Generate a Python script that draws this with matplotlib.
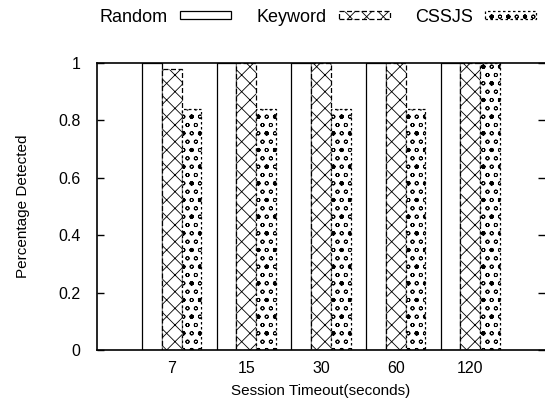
import numpy as np
import matplotlib
matplotlib.use("Agg")
from matplotlib import pyplot as plt

timeouts = ["7", "15", "30", "60", "120"]
random_vals = [1.0, 1.0, 1.0, 1.0, 1.0]
keyword_vals = [0.98, 1.0, 1.0, 1.0, 1.0]
cssjs_vals = [0.84, 0.84, 0.84, 0.84, 1.0]

plt.rcParams['font.family'] = ['Liberation Sans', 'DejaVu Sans']
plt.rcParams['hatch.linewidth'] = 0.6

fig = plt.figure(figsize=(5.45, 4.07), dpi=100)
ax = fig.add_axes([97/545, 1 - 350/407, 448/545, 287/407])

x = np.arange(len(timeouts))
w = 0.265

ax.bar(x - w, random_vals, w, color="white", edgecolor="black", linewidth=0.9, label="Random")
ax.bar(x, keyword_vals, w, color="white", edgecolor="black", linewidth=0.9,
       linestyle=(0, (4, 2)), hatch="xx", label="Keyword")
ax.bar(x + w, cssjs_vals, w, color="white", edgecolor="black", linewidth=0.9,
       linestyle=(0, (2, 2)), hatch="oo.", label="CSSJS")

ax.set_xlim(-1.0, 5.0)
ax.set_ylim(0, 1)
ax.set_xticks(x)
ax.set_xticklabels(timeouts)
ax.set_yticks([0, 0.2, 0.4, 0.6, 0.8, 1])
ax.set_yticklabels(["0", "0.2", "0.4", "0.6", "0.8", "1"])
ax.tick_params(direction="in", labelsize=11.5, length=5, right=True, width=1, pad=12)
ax.tick_params(axis="x", length=0, pad=8)
ax.spines["right"].set_visible(False)
for s in ["left", "bottom", "top"]:
    ax.spines[s].set_linewidth(1.2)

ax.set_ylabel("Percentage Detected", fontsize=11, labelpad=20)
ax.set_xlabel("Session Timeout(seconds)", fontsize=11, labelpad=6)

ax.legend(loc="center", bbox_to_anchor=(0.493, 1.16), ncol=3, frameon=False,
          markerfirst=False, fontsize=13, handlelength=2.8, handleheight=0.35,
          columnspacing=1.4, handletextpad=0.7)

fig.savefig("out.png", dpi=100)
